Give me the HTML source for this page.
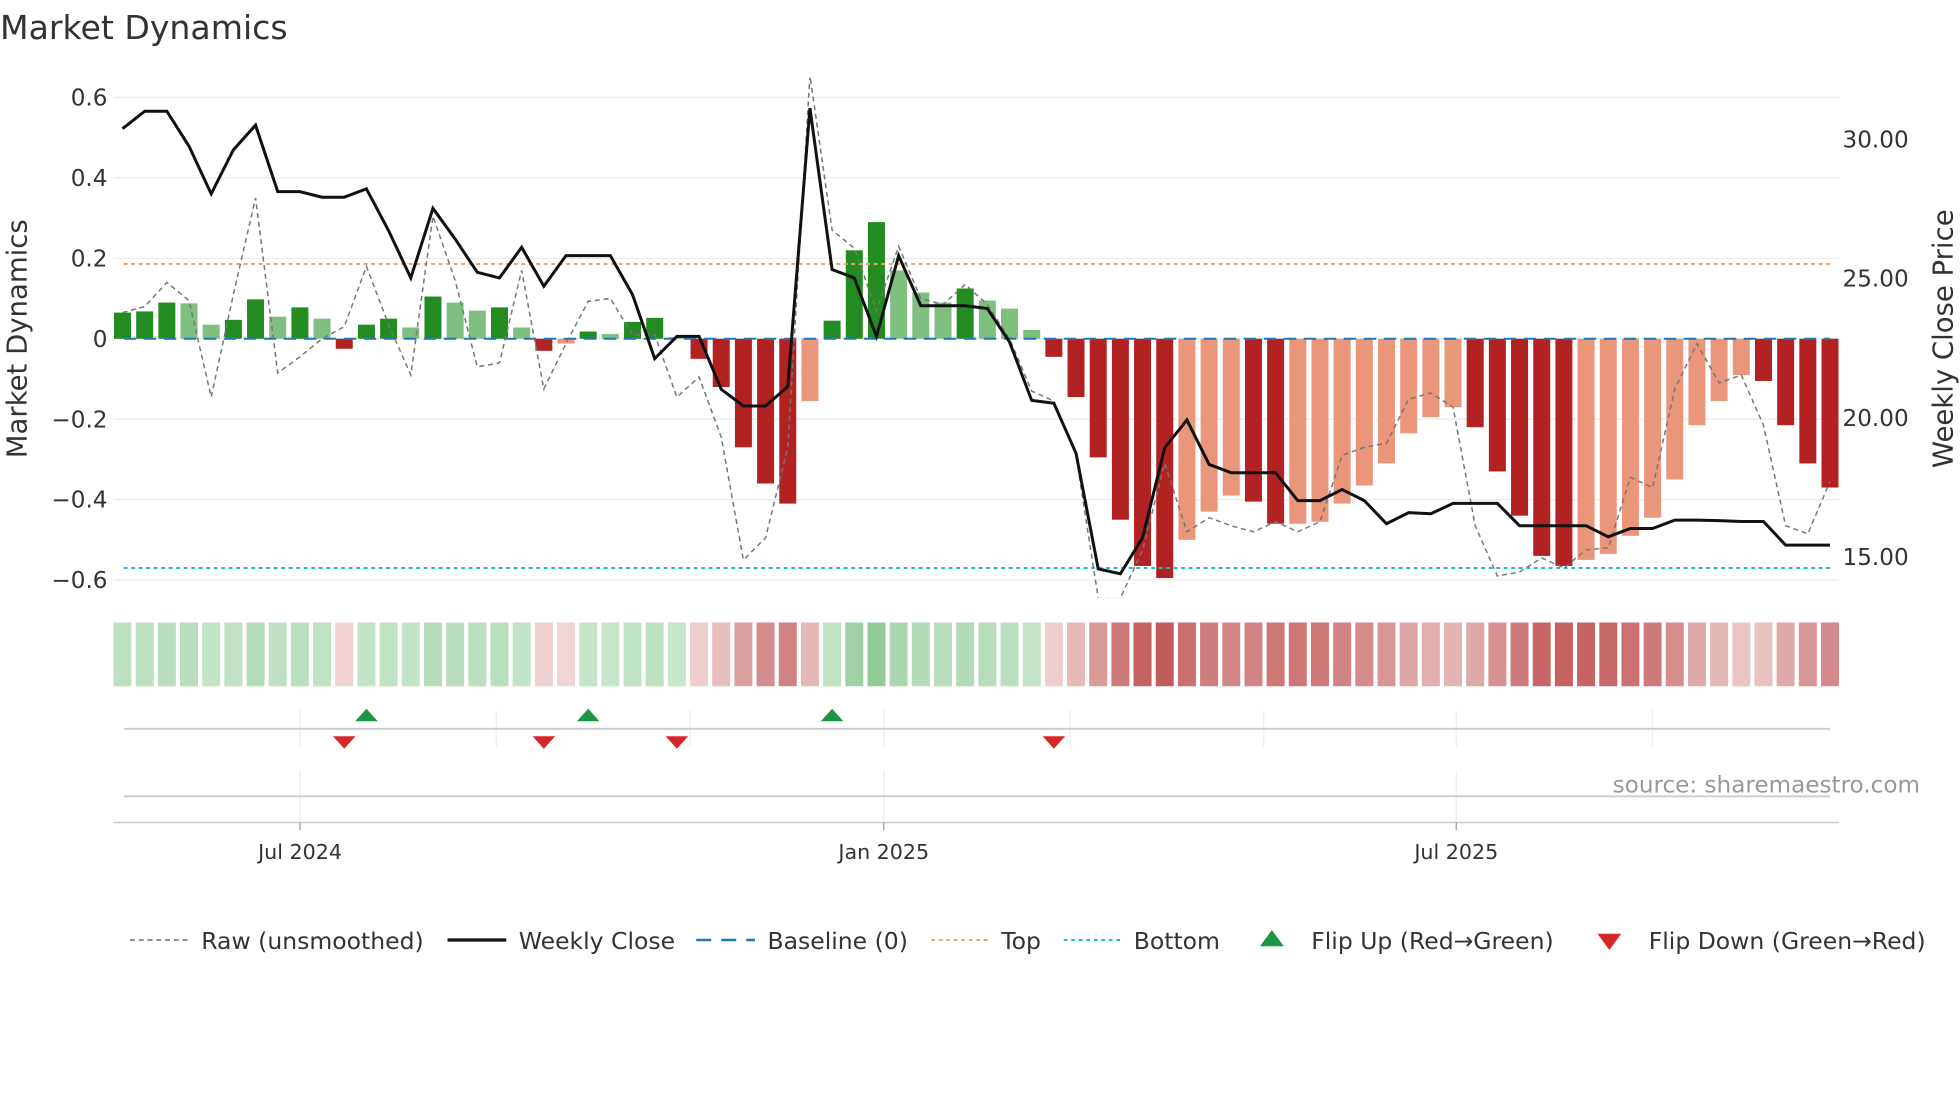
<!DOCTYPE html>
<html><head><meta charset="utf-8"><style>
body{margin:0;background:#fff;}
svg{display:block;font-family:"DejaVu Sans","Liberation Sans",sans-serif;}
</style></head><body>
<svg id="chart" width="1960" height="1102" viewBox="0 0 1568 881.6" xmlns="http://www.w3.org/2000/svg">
<defs><clipPath id="pc"><rect x="91" y="62" width="1380" height="416"/></clipPath></defs>
<text x="0" y="31" font-size="26.5" fill="#333">Market Dynamics</text>
<g id="grid"></g>
<g id="main" clip-path="url(#pc)"></g>
<g id="axes"></g>
<g id="strip"></g>
<g id="flips"></g>
<text x="1536" y="634" font-size="18.5" fill="#999" text-anchor="end">source: sharemaestro.com</text>
<g id="legend"></g>
</svg>
<script>
const dyn=[0.065,0.068,0.09,0.088,0.035,0.047,0.098,0.055,0.078,0.05,-0.025,0.035,0.05,0.028,0.105,0.09,0.07,0.078,0.028,-0.03,-0.012,0.018,0.012,0.042,0.052,0.004,-0.05,-0.12,-0.27,-0.36,-0.41,-0.155,0.045,0.22,0.29,0.17,0.115,0.09,0.125,0.095,0.075,0.022,-0.045,-0.145,-0.295,-0.45,-0.565,-0.595,-0.5,-0.43,-0.39,-0.405,-0.46,-0.46,-0.455,-0.41,-0.365,-0.31,-0.235,-0.195,-0.17,-0.22,-0.33,-0.44,-0.54,-0.565,-0.55,-0.535,-0.49,-0.445,-0.35,-0.215,-0.155,-0.09,-0.105,-0.215,-0.31,-0.37];
const strong=[1,1,1,0,0,1,1,0,1,0,1,1,1,0,1,0,0,1,0,1,0,1,0,1,1,0,1,1,1,1,1,0,1,1,1,0,0,0,1,0,0,0,1,1,1,1,1,1,0,0,0,1,1,0,0,0,0,0,0,0,0,1,1,1,1,1,0,0,0,0,0,0,0,0,1,1,1,1];
const close=[30.36,30.99,30.99,29.73,28.02,29.6,30.49,28.1,28.1,27.9,27.9,28.2,26.7,25.0,27.5,26.4,25.2,25.0,26.1,24.7,25.8,25.8,25.8,24.4,22.1,22.9,22.9,21.0,20.4,20.4,21.1,31.1,25.3,25.0,22.9,25.8,24.0,24.0,24.0,23.9,22.7,20.6,20.5,18.7,14.55,14.37,15.67,18.9,19.9,18.3,18.0,18.0,18.0,17.0,17.0,17.4,17.0,16.17,16.57,16.53,16.9,16.9,16.9,16.1,16.1,16.1,16.1,15.7,16.0,16.0,16.3,16.3,16.28,16.25,16.25,15.4,15.4,15.4];
const raw=[0.065,0.08,0.14,0.095,-0.145,0.11,0.35,-0.085,-0.045,0,0.03,0.18,0.035,-0.09,0.305,0.145,-0.07,-0.06,0.17,-0.125,-0.012,0.093,0.1,0.01,0.01,-0.145,-0.095,-0.245,-0.55,-0.495,-0.27,0.655,0.27,0.225,0.07,0.23,0.1,0.085,0.135,0.085,0,-0.13,-0.155,-0.29,-0.645,-0.645,-0.525,-0.31,-0.48,-0.445,-0.465,-0.48,-0.455,-0.48,-0.455,-0.29,-0.27,-0.26,-0.15,-0.135,-0.17,-0.465,-0.59,-0.58,-0.545,-0.57,-0.525,-0.52,-0.345,-0.37,-0.125,-0.012,-0.11,-0.09,-0.215,-0.465,-0.485,-0.355];
const flipUp=[11,21,32];
const flipDown=[10,19,25,42];
const leftTicks=[0.6,0.4,0.2,0,-0.2,-0.4,-0.6];
const leftLabels=["0.6","0.4","0.2","0","−0.2","−0.4","−0.6"];
const rightTicks=[30,25,20,15];
const dateLabels=["Jul 2024","Jan 2025","Jul 2025"];
const datePos=[240,707,1165];
const topLevel=0.186, bottomLevel=-0.57;

const NS="http://www.w3.org/2000/svg";
function mk(t,a,p){const e=document.createElementNS(NS,t);for(const k in a)e.setAttribute(k,a[k]);p.appendChild(e);return e;}
const X=i=>98+i*(1464-98)/77;
const Y=v=>271-v*321.7;
const YR=p=>111+(30-p)*22.27;
const grid=document.getElementById('grid'),main=document.getElementById('main'),axes=document.getElementById('axes');
leftTicks.forEach((t,i)=>{
  const g=mk('line',{x1:91,x2:1471,y1:Y(t),y2:Y(t),stroke:'#ebebeb','stroke-width':1},grid);
  
  
  const l=mk('text',{x:86,y:Y(t)+6.5,'font-size':18.5,fill:'#333','text-anchor':'end'},axes);l.textContent=leftLabels[i];
  
  
});
rightTicks.forEach(t=>{
  const l=mk('text',{x:1474,y:YR(t)+7,'font-size':18.5,fill:'#333'},axes);l.textContent=t.toFixed(2);
  
  
});
let yt=mk('text',{x:0,y:0,'font-size':22,fill:'#333','text-anchor':'middle',transform:'translate(21,271) rotate(-90)'},axes);yt.textContent='Market Dynamics';


yt=mk('text',{x:0,y:0,'font-size':22,fill:'#333','text-anchor':'middle',transform:'translate(1562,271) rotate(-90)'},axes);yt.textContent='Weekly Close Price';


dyn.forEach((v,i)=>{
  const pos=v>=0;
  const c=pos?(strong[i]?'#228b22':'#7fbf7f'):(strong[i]?'#b22222':'#e9967a');
  const y0=Math.min(Y(v),Y(0)),h=Math.abs(Y(v)-Y(0));
  const r=mk('rect',{x:X(i)-6.8,y:y0,width:13.6,height:Math.max(h,0.5),fill:c},main);
  
  
});
function hline(v,col,dash,name){const l=mk('line',{x1:99,x2:1464,y1:Y(v),y2:Y(v),stroke:col,'stroke-width':1.6,'stroke-dasharray':dash},main);
  
  }
hline(topLevel,'#f4a261','3 3','top-line');
hline(bottomLevel,'#17becf','3 3','bottom-line');
hline(0,'#1f77b4','10 6','baseline');
let p=mk('polyline',{points:raw.map((v,i)=>X(i)+','+Y(v)).join(' '),fill:'none',stroke:'#777','stroke-width':1.2,'stroke-dasharray':'4 3'},main);


p=mk('polyline',{points:close.map((v,i)=>X(i)+','+YR(v)).join(' '),fill:'none',stroke:'#111','stroke-width':2.4},main);


const strip=document.getElementById('strip');
dyn.forEach((v,i)=>{
  let c;
  if(v>=0){const t=Math.min(v/0.3,1);c=`rgb(${Math.round(200-55*t)},${Math.round(230-28*t)},${Math.round(205-55*t)})`;}
  else{const t=Math.min(-v/0.6,1);c=`rgb(${Math.round(242-48*t)},${Math.round(215-125*t)},${Math.round(215-125*t)})`;}
  const r=mk('rect',{x:X(i)-7.2,y:498,width:14.4,height:51,fill:c},strip);
  
  
});
const fl=document.getElementById('flips');
[240,397,552,707,856,1011,1165,1322].forEach(x=>{mk('line',{x1:x,x2:x,y1:568,y2:598,stroke:'#eee'},fl);});
datePos.forEach(x=>{mk('line',{x1:x,x2:x,y1:617,y2:658,stroke:'#eee'},fl);});
mk('line',{x1:99,x2:1464,y1:583,y2:583,stroke:'#ccc','stroke-width':1.5},fl);
mk('line',{x1:99,x2:1464,y1:637,y2:637,stroke:'#ccc','stroke-width':1.5},fl);
mk('line',{x1:91,x2:1471,y1:658,y2:658,stroke:'#ccc','stroke-width':1.2},fl);
flipUp.forEach(i=>{const x=X(i);const t=mk('polygon',{points:`${x-9},577 ${x+9},577 ${x},567`,fill:'#1a9641'},fl);
  
  });
flipDown.forEach(i=>{const x=X(i);const t=mk('polygon',{points:`${x-9},589 ${x+9},589 ${x},599`,fill:'#d62728'},fl);
  
  });
dateLabels.forEach((d,i)=>{mk('line',{x1:datePos[i],x2:datePos[i],y1:658,y2:664,stroke:'#999'},fl);
  const l=mk('text',{x:datePos[i],y:687,'font-size':16.5,fill:'#333','text-anchor':'middle'},fl);l.textContent=d;
  
  });
const lg=document.getElementById('legend');const ly=752;
function lt(x,s,name){const t=mk('text',{x:x,y:ly+7,'font-size':18.8,fill:'#333'},lg);t.textContent=s;
  
  }
mk('line',{x1:104,x2:150,y1:ly,y2:ly,stroke:'#777','stroke-width':1.3,'stroke-dasharray':'4 3'},lg);lt(161,'Raw (unsmoothed)','legend-raw');
mk('line',{x1:358,x2:405,y1:ly,y2:ly,stroke:'#111','stroke-width':2.6},lg);lt(415,'Weekly Close','legend-close');
mk('line',{x1:557,x2:604,y1:ly,y2:ly,stroke:'#1f77b4','stroke-width':2,'stroke-dasharray':'12 8'},lg);lt(614,'Baseline (0)','legend-baseline');
mk('line',{x1:745,x2:791,y1:ly,y2:ly,stroke:'#f4a261','stroke-width':1.6,'stroke-dasharray':'3 3'},lg);lt(801,'Top','legend-top');
mk('line',{x1:851,x2:897,y1:ly,y2:ly,stroke:'#17becf','stroke-width':1.6,'stroke-dasharray':'3 3'},lg);lt(907,'Bottom','legend-bottom');
mk('polygon',{points:'1008,757 1027,757 1017.5,744',fill:'#1a9641'},lg);lt(1049,'Flip Up (Red→Green)','legend-flip-up');
mk('polygon',{points:'1278,747 1297,747 1287.5,760',fill:'#d62728'},lg);lt(1319,'Flip Down (Green→Red)','legend-flip-down');
</script>
</body></html>
